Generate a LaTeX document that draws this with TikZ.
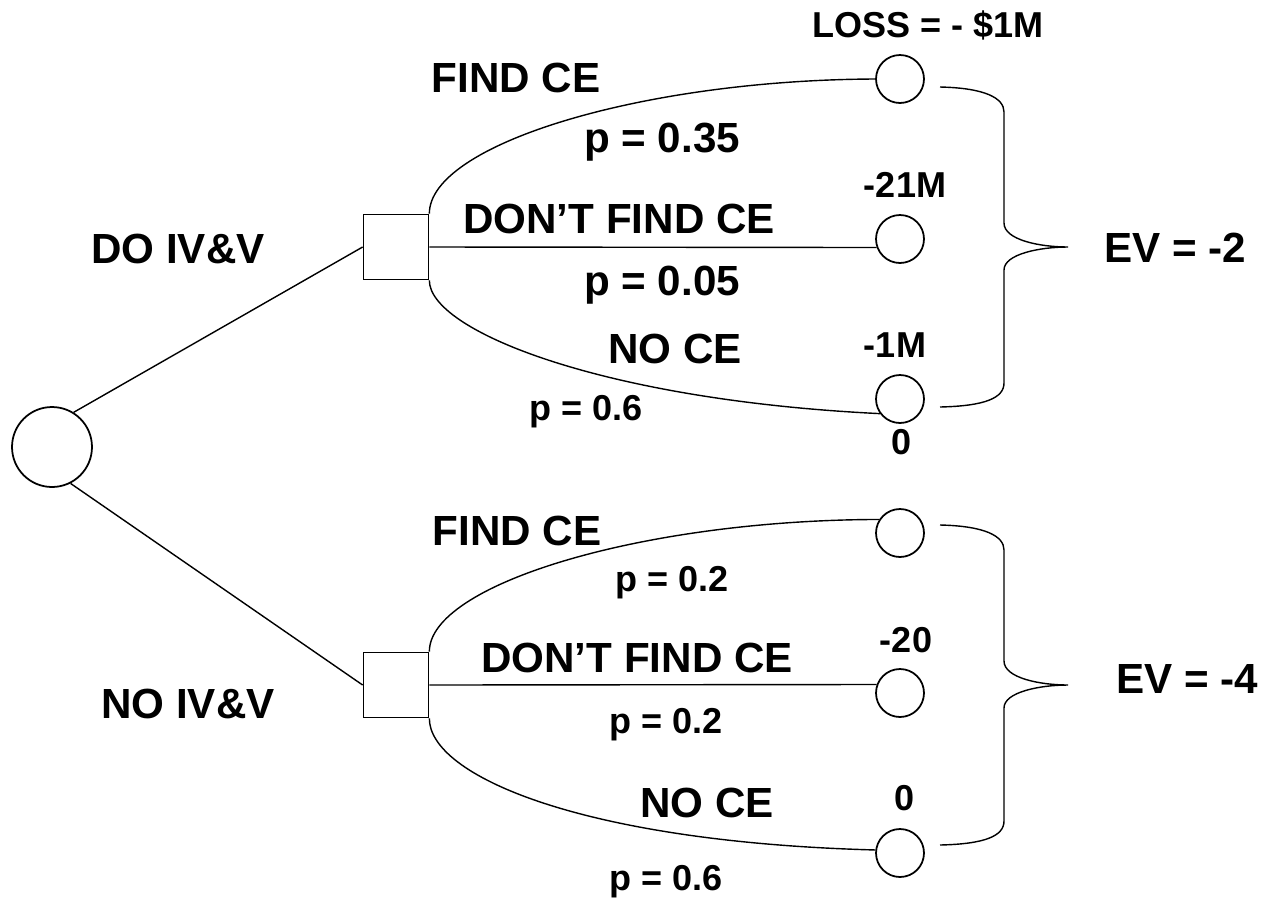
\documentclass[tikz,border=0pt]{standalone}
\usepackage{fontspec}
\setmainfont{Liberation Sans}
\begin{document}
\begin{tikzpicture}[x=0.02cm, y=-0.02cm, line width=0.8pt,
        lbl/.style={anchor=base, inner sep=0pt, font=\fontsize{24}{28}\selectfont\bfseries},
        val/.style={anchor=base, inner sep=0pt, font=\fontsize{20.5}{24}\selectfont\bfseries},
        chance/.style={circle, draw, line width=1pt, minimum size=0.96cm, inner sep=0pt},
        decision/.style={rectangle, draw, line width=1pt, minimum size=1.3cm, inner sep=0pt}]

        \useasboundingbox (0,0) rectangle (1264,900);

        % nodes
        \node[circle, draw, line width=1pt, minimum size=1.6cm] (root) at (52,447) {};
        \node[decision] (sqa) at (396,247) {};
        \node[decision] (sqb) at (396,685) {};

        \foreach \n/\y in {1/79, 2/239, 3/399, 4/533, 5/693, 6/853} {
            \node[chance] (c\n) at (900,\y) {};
        }

        % branches
        \draw (root.58) -- (sqa.west);
        \draw (root.-63) -- (sqb.west);

        \draw (sqa.north east) .. controls (429,145) and (640,80) .. (c1.west);
        \draw (sqa.east) -- (c2.200);
        \draw (sqa.south east) .. controls (429,330) and (600,400) .. (c3.216);

        \draw (sqb.north east) .. controls (429,585) and (640,520) .. (c4.147);
        \draw (sqb.east) -- (c5.160);
        \draw (sqb.south east) .. controls (429,775) and (580,842) .. (c6.173);

        % braces
        \foreach \t in {87, 525} {
            \draw (940,\t) .. controls (985,{\t+1}) and (1004,{\t+11}) .. (1004,{\t+25})
                -- (1004,{\t+136}) .. controls (1004,{\t+153}) and (1040,{\t+160}) .. (1068,{\t+160})
                .. controls (1040,{\t+160}) and (1004,{\t+167}) .. (1004,{\t+183})
                -- (1004,{\t+296}) .. controls (1004,{\t+311}) and (985,{\t+319}) .. (940,{\t+320});
        }

        % labels
        \node[lbl] (doiv) at (178,263) {DO IV\&V};
        \node[lbl] (noiv) at (188,718) {NO IV\&V};

        \node[lbl] (fa) at (516,92) {FIND CE};
        \node[lbl] (pa1) at (662,152) {p = 0.35};
        \node[lbl] (da) at (619,233) {DON'T FIND CE};
        \node[lbl] (pa2) at (662,295) {p = 0.05};
        \node[lbl] (na) at (675,363) {NO CE};
        \node[val] (pa3) at (586,420) {p = 0.6};

        \node[lbl] (fb) at (517,545) {FIND CE};
        \node[val] (pb1) at (672,591) {p = 0.2};
        \node[lbl] (db) at (637,672) {DON'T FIND CE};
        \node[val] (pb2) at (666,733) {p = 0.2};
        \node[lbl] (nb) at (707,817) {NO CE};
        \node[val] (pb3) at (666,890) {p = 0.6};

        \node[val] (va1) at (928,37) {LOSS = - \$1M};
        \node[val] (va2) at (905,197) {-21M};
        \node[val] (va3) at (895,357) {-1M};
        \node[val] (va4) at (902,454) {0};
        \node[val] (vb2) at (906,652) {-20};
        \node[val] (vb3) at (905,810) {0};

        \node[lbl] (eva) at (1175,262) {EV = -2};
        \node[lbl] (evb) at (1187,693) {EV = -4};

\end{tikzpicture}
\end{document}
